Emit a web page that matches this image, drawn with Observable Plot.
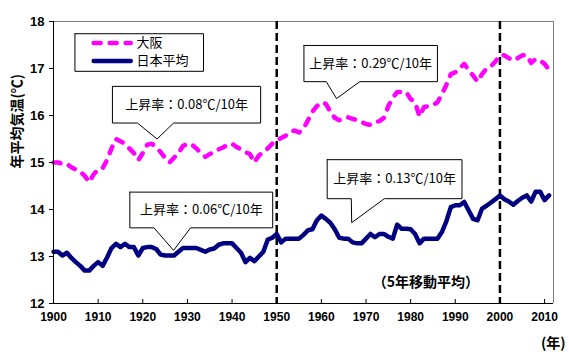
<!DOCTYPE html>
<html><head><meta charset="utf-8">
<script src="https://cdn.jsdelivr.net/npm/d3@7"></script>
<script src="https://cdn.jsdelivr.net/npm/@observablehq/plot@0.6"></script>
<style>
body{margin:0;background:#fff;}
#chart svg{display:block;}
</style></head><body><div id="chart"></div>
<script>
const years = d3.range(1900, 2012);
const osaka = [
 15.0, 15.0, 14.97, 14.97, 14.9, 14.85, 14.8, 14.72, 14.58, 14.75,
 14.85, 14.88, 15.05, 15.3, 15.5, 15.45, 15.4, 15.3, 15.2, 15.05,
 15.2, 15.38, 15.4, 15.33, 15.22, 15.1, 15.0, 15.1, 15.2, 15.35,
 15.4, 15.38, 15.3, 15.2, 15.12, 15.18, 15.22, 15.28, 15.32, 15.38,
 15.4, 15.33, 15.28, 15.22, 15.18, 15.0, 15.15, 15.22, 15.3, 15.4,
 15.47, 15.52, 15.57, 15.65, 15.68, 15.64, 15.72, 15.9, 16.08, 16.2,
 16.28, 16.25, 16.08, 15.95, 15.9, 15.92, 15.96, 15.93, 15.9, 15.86,
 15.82, 15.8, 15.86, 15.88, 15.95, 16.2, 16.38, 16.5, 16.5, 16.5,
 16.35, 16.28, 15.98, 16.18, 16.2, 16.22, 16.28, 16.45, 16.65, 16.88,
 16.92, 17.0, 17.1, 16.96, 16.85, 16.72, 16.88, 17.0, 17.05, 17.15,
 17.28, 17.28, 17.22, 17.17, 17.22, 17.28, 17.28, 17.12, 17.2, 17.17,
 17.1, 16.97
];
const japan = [
 13.1, 13.1, 13.02, 13.08, 12.97, 12.88, 12.8, 12.7, 12.7, 12.8,
 12.88, 12.8, 12.98, 13.18, 13.27, 13.2, 13.27, 13.2, 13.2, 13.02,
 13.18, 13.2, 13.2, 13.16, 13.04, 13.02, 13.02, 13.02, 13.1, 13.18,
 13.18, 13.18, 13.18, 13.14, 13.1, 13.15, 13.17, 13.25, 13.28, 13.28,
 13.28, 13.18, 13.08, 12.88, 12.97, 12.9, 13.0, 13.1, 13.36, 13.4,
 13.48, 13.3, 13.38, 13.38, 13.38, 13.38, 13.46, 13.56, 13.58, 13.77,
 13.87, 13.8, 13.72, 13.58, 13.4, 13.38, 13.38, 13.3, 13.28, 13.28,
 13.38, 13.48, 13.41, 13.48, 13.48, 13.42, 13.38, 13.68, 13.59, 13.59,
 13.58, 13.48, 13.28, 13.38, 13.38, 13.38, 13.38, 13.52, 13.75, 14.05,
 14.09, 14.09, 14.16, 13.98, 13.8, 13.77, 14.02, 14.08, 14.15, 14.22,
 14.3, 14.22, 14.17, 14.1, 14.18, 14.25, 14.3, 14.17, 14.38, 14.38,
 14.2, 14.3
];
const xTicks = [1900, 1910, 1920, 1930, 1940, 1950, 1960, 1970, 1980, 1990, 2000, 2010];
const yTicks = [12, 13, 14, 15, 16, 17, 18];
const seriesNames = ["大阪", "日本平均"];
const seriesColors = ["#ff00ff", "#000080"];
const dividers = [1950, 2000];
const yTitle = "年平均気温(℃)";
const xUnit = "(年)";
const note = "（5年移動平均）";
const rateTexts = ["上昇率：0.08℃/10年", "上昇率：0.29℃/10年", "上昇率：0.06℃/10年", "上昇率：0.13℃/10年"];
// callout geometry in data units: [x1, x2, yTop, yBottom, base1, base2, tipX, tipY]
const calloutGeom = [
 [1913.2, 1946.4, 16.62, 15.84, 1918.8, 1926.9, 1923.2, 15.50],
 [1956.1, 1986.0, 17.49, 16.72, 1961.1, 1968.6, 1963.4, 16.36],
 [1917.1, 1949.1, 14.37, 13.61, 1922.5, 1930.7, 1926.9, 13.13],
 [1961.3, 1991.5, 15.06, 14.23, 1966.7, 1974.1, 1966.8, 13.72]
];
// legend placement in data units
const legendBox = [1904.8, 1933.6, 17.74, 16.94];
const legendRows = [17.54, 17.16];
const legendLineX = [1909.0, 1917.3];
const legendTextX = 1918.6;

const osakaData = years.map((y, i) => ({year: y, v: osaka[i]}));
const japanData = years.map((y, i) => ({year: y, v: japan[i]}));

const calloutPts = [];
calloutGeom.forEach((g, id) => {
  const [x1, x2, yt, yb, b1, b2, tx, ty] = g;
  [[x1, yt], [x2, yt], [x2, yb], [b2, yb], [tx, ty], [b1, yb], [x1, yb], [x1, yt]]
    .forEach(([x, y]) => calloutPts.push({id, x, y}));
});
const calloutLabels = calloutGeom.map((g, i) => ({x: (g[0] + g[1]) / 2, y: (g[2] + g[3]) / 2, text: rateTexts[i]}));
const legendBoxPts = [[legendBox[0], legendBox[2]], [legendBox[1], legendBox[2]], [legendBox[1], legendBox[3]], [legendBox[0], legendBox[3]], [legendBox[0], legendBox[2]]].map(([x, y]) => ({x, y}));

const jp = "'Noto Sans CJK JP', sans-serif";
const num = "'Liberation Sans', Arial, sans-serif";

const chart = Plot.plot({
  width: 569, height: 356,
  marginLeft: 53, marginRight: 16, marginTop: 21, marginBottom: 53,
  x: {domain: [1900, 2012]},
  y: {domain: [12, 18]},
  style: {background: "#fff", color: "#000", fontFamily: num},
  marks: [
    Plot.ruleY([18], {stroke: "#808080", strokeWidth: 1}),
    Plot.ruleX([2012], {stroke: "#808080", strokeWidth: 1}),
    Plot.ruleX(dividers, {stroke: "#000", strokeWidth: 2.5, strokeDasharray: "8,4"}),
    Plot.line(japanData, {x: "year", y: "v", stroke: seriesColors[1], strokeWidth: 4.5, strokeLinejoin: "round", strokeLinecap: "round"}),
    Plot.line(osakaData, {x: "year", y: "v", stroke: seriesColors[0], strokeWidth: 4.5, strokeDasharray: "7,9", strokeLinejoin: "round", strokeLinecap: "round"}),
    Plot.line(calloutPts, {x: "x", y: "y", z: "id", fill: "#fff", stroke: "#000", strokeWidth: 1, curve: "linear"}),
    Plot.text(calloutLabels, {x: "x", y: "y", text: "text", fontFamily: jp, fontSize: 13, fill: "#000"}),
    Plot.line(legendBoxPts, {x: "x", y: "y", fill: "#fff", stroke: "#000", strokeWidth: 1}),
    Plot.line([{x: legendLineX[0], y: legendRows[0]}, {x: legendLineX[1], y: legendRows[0]}], {x: "x", y: "y", stroke: seriesColors[0], strokeWidth: 4.5, strokeDasharray: "7,9", strokeLinecap: "round"}),
    Plot.line([{x: legendLineX[0], y: legendRows[1]}, {x: legendLineX[1], y: legendRows[1]}], {x: "x", y: "y", stroke: seriesColors[1], strokeWidth: 4.5, strokeLinecap: "round"}),
    Plot.text(seriesNames.map((n, i) => ({x: legendTextX, y: legendRows[i], n})), {x: "x", y: "y", text: "n", textAnchor: "start", fontFamily: jp, fontSize: 13, fill: "#000"}),
    Plot.ruleX([1900], {stroke: "#000", strokeWidth: 1}),
    Plot.ruleY([12], {stroke: "#000", strokeWidth: 1}),
    Plot.ruleX(xTicks, {y1: 12, y2: 12.085, stroke: "#000", strokeWidth: 1}),
    Plot.axisY({ticks: yTicks, tickSize: 4, tickPadding: 5, label: null, fontSize: 13, fontWeight: "bold", fontFamily: num, tickFormat: d => String(d)}),
    Plot.axisX({ticks: xTicks, tickSize: 0, tickPadding: 9, label: null, fontSize: 12, fontWeight: "bold", fontFamily: num, tickFormat: d => String(d)}),
    Plot.text([yTitle], {frameAnchor: "left", text: d => d, rotate: -90, dx: -36, dy: 6, fontFamily: jp, fontSize: 14, fontWeight: "bold", fill: "#000"}),
    Plot.text([note], {x: [1983.4], y: [12.45], text: d => d, fontFamily: jp, fontSize: 14, fontWeight: "bold", fill: "#000"}),
    Plot.text([xUnit], {frameAnchor: "bottom-right", text: d => d, dx: 12, dy: 44, textAnchor: "end", fontFamily: jp, fontSize: 14, fontWeight: "bold", fill: "#000"})
  ]
});
document.getElementById("chart").appendChild(chart);
</script>
</body></html>
